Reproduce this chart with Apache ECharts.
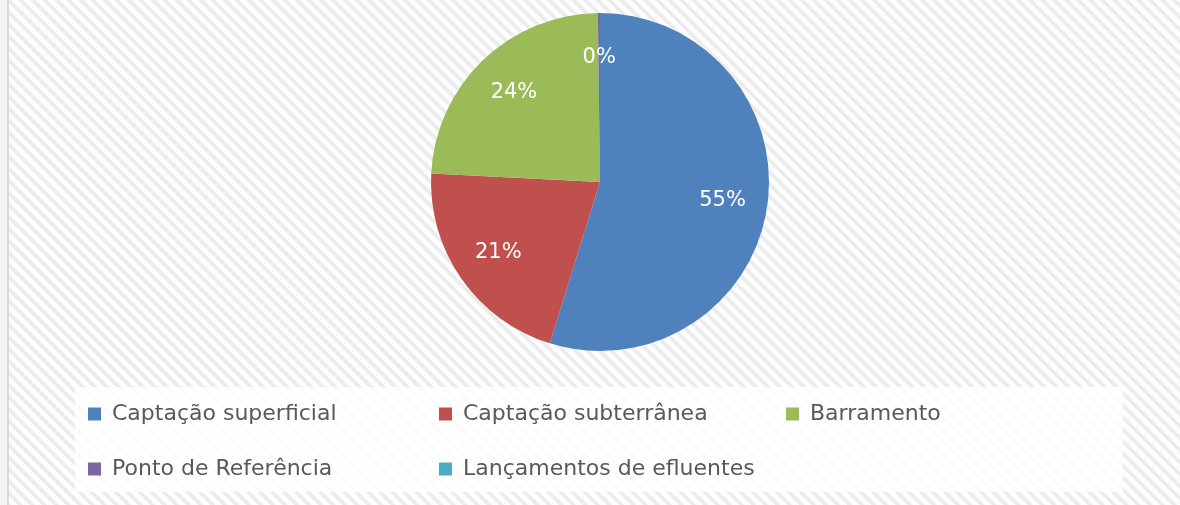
<!DOCTYPE html>
<html>
<head>
<meta charset="utf-8">
<script src="https://cdn.jsdelivr.net/npm/echarts@6/dist/echarts.min.js"></script>
<style>
    html, body { margin: 0; padding: 0; background: #fff; }
    #chart {
        width: 1180px;
        height: 505px;
        background: repeating-linear-gradient(45deg, #fdfdfd 0px, #fdfdfd 3.5px, #ebebeb 5px, #ebebeb 7px, #fdfdfd 8.5px);
    }
</style>
</head>
<body>
<div id="chart"></div>
<script>
// dados do gráfico
var categorias = ['Captação superficial', 'Captação subterrânea', 'Barramento', 'Ponto de Referência', 'Lançamentos de efluentes'];
var valores = [54.8, 21.0, 24.0, 0.2, 0];

var cores = ['#4f81bd', '#c0504d', '#9bbb59', '#8064a2', '#4bacc6'];
// colunas da legenda (índices das categorias)
var colunasLegenda = [[0, 3], [1, 4], [2]];
var colunasX = [88, 439, 786];

var chart = echarts.init(document.getElementById('chart'));

var dados = categorias.map(function (nome, i) {
    return { name: nome, value: valores[i] };
});

var legendas = colunasLegenda.map(function (col, c) {
    return {
        orient: 'vertical',
        left: colunasX[c],
        top: 402,
        padding: 0,
        itemWidth: 13,
        itemHeight: 13,
        itemGap: 31,
        icon: 'rect',
        selectedMode: false,
        data: col.map(function (i) { return categorias[i]; }),
        textStyle: {
            fontFamily: 'DejaVu Sans',
            fontSize: 22,
            lineHeight: 24,
            color: '#595959',
            padding: [0, 0, 0, 6]
        }
    };
});

chart.setOption({
    backgroundColor: 'transparent',
    color: cores,
    animation: false,
    graphic: [
        { type: 'rect', left: 0, top: 0, shape: { width: 7, height: 505 }, style: { fill: '#f4f4f4' }, z: -10 },
        { type: 'rect', left: 7, top: 0, shape: { width: 2, height: 505 }, style: { fill: '#d9d9d9' }, z: -10 },
        { type: 'rect', left: 75, top: 387, shape: { width: 1048, height: 105 }, style: { fill: 'rgba(255,255,255,0.8)' }, z: -10 }
    ],
    legend: legendas,
    series: [{
        type: 'pie',
        center: [600, 182],
        radius: [0, 169],
        startAngle: 90,
        clockwise: true,
        data: dados,
        label: { show: false },
        labelLine: { show: false },
        itemStyle: { borderWidth: 0 }
    }, {
        // série só para posicionar os rótulos de percentagem
        type: 'pie',
        center: [600, 182],
        radius: [73, 169],
        startAngle: 90,
        clockwise: true,
        silent: true,
        percentPrecision: 0,
        data: dados,
        itemStyle: { color: 'rgba(0,0,0,0)' },
        label: {
            show: true,
            position: 'inside',
            formatter: '{d}%',
            fontFamily: 'DejaVu Sans',
            fontSize: 21,
            color: '#ffffff'
        },
        labelLine: { show: false }
    }]
});
</script>
</body>
</html>
